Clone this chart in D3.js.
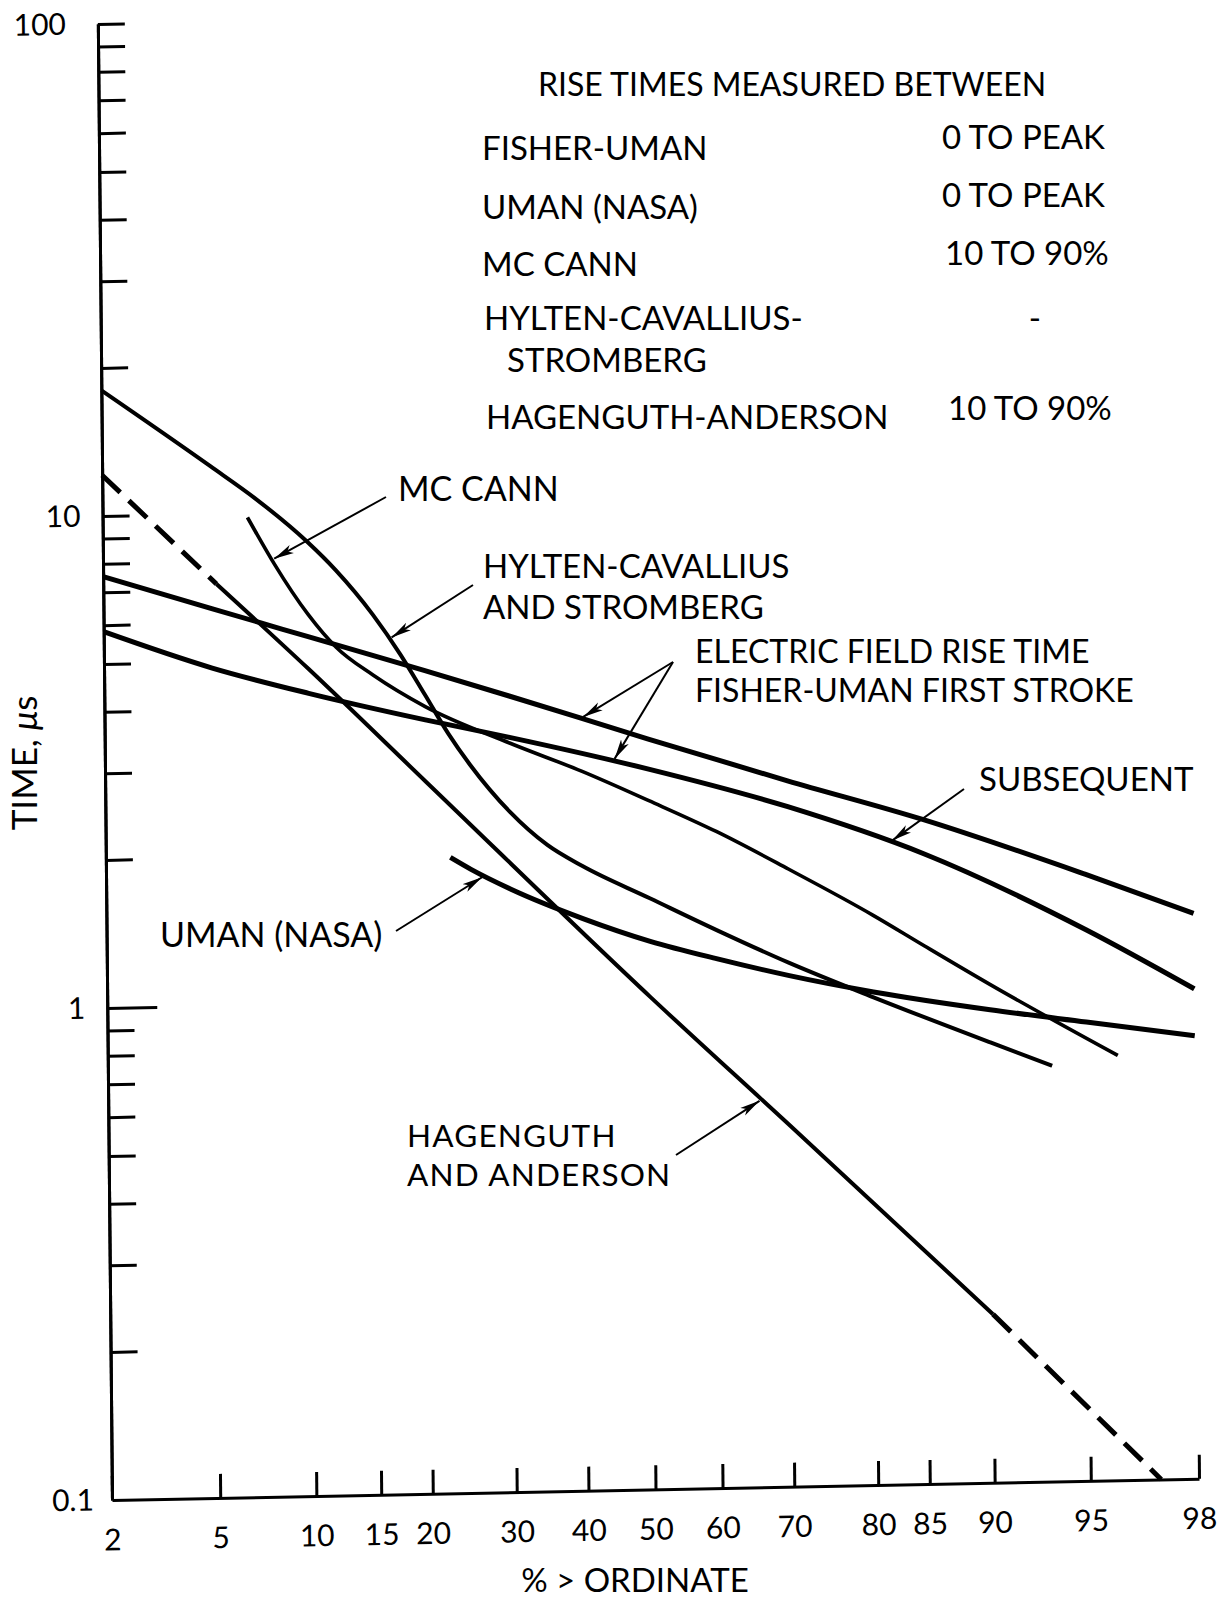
<!DOCTYPE html>
<html>
<head>
<meta charset="utf-8">
<script src="https://cdn.jsdelivr.net/npm/d3@7"></script>
<style>
  body { margin: 0; background: #fff; }
  svg text { font-family: Lato, "Open Sans", "DejaVu Sans", sans-serif; fill: #000; }
</style>
</head>
<body>
<svg id="chart" width="1223" height="1602"></svg>
<script>
// ---- axis ticks ----
const percentTicks = [2, 5, 10, 15, 20, 30, 40, 50, 60, 70, 80, 85, 90, 95, 98];
const timeMajorTicks = [0.1, 1, 10, 100];
const timeMajorLabels = ["0.1", "1", "10", "100"];
const timeMinorTicks = [0.2, 0.3, 0.4, 0.5, 0.6, 0.7, 0.8, 0.9,
                        2, 3, 4, 5, 6, 7, 8, 9,
                        20, 30, 40, 50, 60, 70, 80, 90];

// ---- rise-time distributions: [percent > ordinate, time in microseconds] ----
const fisherUmanFirst = [[2, 7.53], [5, 6.42], [10, 5.58], [20, 4.71], [30, 4.15], [50, 3.35],
                         [70, 2.72], [85, 2.24], [95, 1.71], [98, 1.41]];
const fisherUmanSubsequent = [[2, 5.82], [5, 4.86], [10, 4.28], [20, 3.74], [30, 3.42], [50, 2.91],
                              [70, 2.41], [85, 1.91], [95, 1.32], [98, 0.99]];
const hyltenCavallius = [[2, 18.0], [5, 12.5], [7, 10.7], [10, 8.7], [12, 7.6], [15, 6.15],
                         [17.5, 5.1], [20, 4.2], [22.5, 3.5], [25, 3.02], [30, 2.41], [35, 2.06],
                         [40, 1.86], [50, 1.59], [60, 1.36], [70, 1.16], [80, 0.98], [90, 0.785],
                         [93.5, 0.70]];
const mcCann = [[6.6, 9.8], [7, 9.15], [8, 7.84], [10, 6.2], [12, 5.29], [15, 4.63], [20, 3.98],
                [30, 3.33], [40, 2.9], [50, 2.51], [60, 2.16], [70, 1.8], [80, 1.44], [85, 1.24],
                [90, 1.03], [96.1, 0.73]];
const umanNasa = [[22.6, 1.96], [25, 1.85], [30, 1.68], [40, 1.455], [50, 1.30], [60, 1.19],
                  [70, 1.093], [80, 1.005], [90, 0.915], [95, 0.856], [98, 0.795]];
const hagenguthAnderson = [[2, 12.1], [5.2, 7.2], [10, 4.8], [20, 2.8], [50, 1.0], [70, 0.54],
                           [90, 0.22], [97.2, 0.1]];
const hagenguthMeasuredRange = [5.2, 90];   // outside this range the line is extrapolated

// ---- table of measurement definitions ----
const tableTitle = "RISE TIMES MEASURED BETWEEN";
const tableNames = ["FISHER-UMAN", "UMAN (NASA)", "MC CANN", "HYLTEN-CAVALLIUS-", "HAGENGUTH-ANDERSON"];
const tableMeasured = ["0 TO PEAK", "0 TO PEAK", "10 TO 90%", "-", "10 TO 90%"];

// ---------------------------------------------------------------
const svg = d3.select("#chart");
const origin = { x: 112, y: 1500 };
// the sheet sits slightly askew on the page
const shearX = 0.0096, shearY = -0.0196;
const mA = 1, mB = shearY, mC = shearX, mD = 1;
const mE = -shearX * origin.y, mF = -shearY * origin.x;

// page position -> plot-frame position (inverse of the sheet transform)
function toPlot(X, Y) {
  const det = mA * mD - mB * mC;
  const u = X - mE, v = Y - mF;
  return [(mD * u - mC * v) / det, (mA * v - mB * u) / det];
}

// inverse normal CDF (Acklam)
function probit(p) {
  const a = [-3.969683028665376e+01, 2.209460984245205e+02, -2.759285104469687e+02,
             1.383577518672690e+02, -3.066479806614716e+01, 2.506628277459239e+00];
  const b = [-5.447609879822406e+01, 1.615858368580409e+02, -1.556989798598866e+02,
             6.680131188771972e+01, -1.328068155288572e+01];
  const c = [-7.784894002430293e-03, -3.223964580411365e-01, -2.400758277161838e+00,
             -2.549732539343734e+00, 4.374664141464968e+00, 2.938163982698783e+00];
  const d = [7.784695709041462e-03, 3.224671290700398e-01, 2.445134137142996e+00,
             3.754408661907416e+00];
  const pl = 0.02425, ph = 1 - pl;
  let q, r;
  if (p < pl) {
    q = Math.sqrt(-2 * Math.log(p));
    return (((((c[0]*q+c[1])*q+c[2])*q+c[3])*q+c[4])*q+c[5]) / ((((d[0]*q+d[1])*q+d[2])*q+d[3])*q+1);
  }
  if (p > ph) {
    q = Math.sqrt(-2 * Math.log(1 - p));
    return -(((((c[0]*q+c[1])*q+c[2])*q+c[3])*q+c[4])*q+c[5]) / ((((d[0]*q+d[1])*q+d[2])*q+d[3])*q+1);
  }
  q = p - 0.5; r = q * q;
  return (((((a[0]*r+a[1])*r+a[2])*r+a[3])*r+a[4])*r+a[5])*q /
         (((((b[0]*r+b[1])*r+b[2])*r+b[3])*r+b[4])*r+1);
}

// probability (normal) scale for percent, log scale for time
const zScale = d3.scaleLinear().domain([probit(0.02), probit(0.98)]).range([112, 1199]);
const x = pct => zScale(probit(pct / 100));
const y = d3.scaleLog().domain([0.1, 100]).range([1500, 24]);

const sheet = svg.append("g")
  .attr("transform", `matrix(${mA},${mB},${mC},${mD},${mE},${mF})`);
const page = svg.append("g");

// arrowhead
svg.append("defs").append("marker")
  .attr("id", "head")
  .attr("viewBox", "0 -5 20 10")
  .attr("markerUnits", "userSpaceOnUse")
  .attr("markerWidth", 20).attr("markerHeight", 10)
  .attr("refX", 20).attr("refY", 0)
  .attr("orient", "auto")
  .append("path")
  .attr("d", "M0,-4.5L20,0L0,4.5L5,0Z")
  .attr("fill", "#000");

// ---- axes ----
function styleAxis(g, fontSize) {
  g.attr("font-family", null).attr("font-size", null);
  g.select(".domain").attr("stroke", "#000").attr("stroke-width", 3);
  g.selectAll(".tick line").attr("stroke", "#000").attr("stroke-width", 3);
  g.selectAll(".tick text").style("font-size", fontSize + "px");
}

const xAxis = d3.axisBottom(zScale)
  .tickValues(percentTicks.map(p => probit(p / 100)))
  .tickFormat((d, i) => percentTicks[i])
  .tickSizeInner(-24).tickSizeOuter(0).tickPadding(29);
sheet.append("g")
  .attr("transform", `translate(0,${y(0.1)})`)
  .call(xAxis)
  .call(g => styleAxis(g, 30));

const yMinor = d3.axisLeft(y)
  .tickValues(timeMinorTicks).tickFormat("")
  .tickSizeInner(-27).tickSizeOuter(0);
sheet.append("g")
  .attr("transform", `translate(${origin.x},0)`)
  .call(yMinor)
  .call(g => styleAxis(g, 30));

const yMajor = d3.axisLeft(y)
  .tickValues(timeMajorTicks)
  .tickFormat((d, i) => timeMajorLabels[i])
  .tickSizeInner(-27).tickSizeOuter(0).tickPadding(22);
sheet.append("g")
  .attr("transform", `translate(${origin.x},0)`)
  .call(yMajor)
  .call(g => styleAxis(g, 30))
  .call(g => g.selectAll(".tick").filter(d => d === 1).select("line").attr("x2", 50))
  .call(g => g.selectAll(".tick").filter(d => d === 0.1).select("line").remove())
  .call(g => g.selectAll(".tick").filter(d => d === 100).select("text").attr("dx", -10))
  .call(g => g.selectAll(".tick").filter(d => d === 0.1).select("text").attr("dx", 4));

// ---- curves ----
const line = d3.line()
  .x(d => x(d[0]))
  .y(d => y(d[1]))
  .curve(d3.curveMonotoneX);

const curves = [
  { data: fisherUmanFirst, width: 5 },
  { data: fisherUmanSubsequent, width: 5 },
  { data: hyltenCavallius, width: 4 },
  { data: mcCann, width: 3.6 },
  { data: umanNasa, width: 5 }
];
sheet.append("g").selectAll("path")
  .data(curves)
  .join("path")
  .attr("d", d => line(d.data))
  .attr("fill", "none")
  .attr("stroke", "#000")
  .attr("stroke-width", d => d.width);

const [lo, hi] = hagenguthMeasuredRange;
const haGroup = sheet.append("g").attr("fill", "none").attr("stroke", "#000");
haGroup.append("path")
  .attr("d", line(hagenguthAnderson.filter(d => d[0] >= lo && d[0] <= hi)))
  .attr("stroke-width", 4);
[hagenguthAnderson.filter(d => d[0] <= lo), hagenguthAnderson.filter(d => d[0] >= hi)]
  .forEach(seg => haGroup.append("path")
    .attr("d", line(seg))
    .attr("stroke-width", 5)
    .attr("stroke-dasharray", "25 12"));

// ---- annotation arrows (tail on the page, tip on a curve) ----
function pointOn(series, pct) {
  const pts = series.map(d => [x(d[0]), y(d[1])]);
  const px = x(pct);
  for (let i = 1; i < pts.length; i++) {
    if (px <= pts[i][0]) {
      const t = (px - pts[i - 1][0]) / (pts[i][0] - pts[i - 1][0]);
      return [px, pts[i - 1][1] + t * (pts[i][1] - pts[i - 1][1])];
    }
  }
  return pts[pts.length - 1];
}

const arrows = [
  { from: [386, 497], series: mcCann, at: 7.85 },
  { from: [473, 585], series: hyltenCavallius, at: 16.5 },
  { from: [673, 662], series: fisherUmanFirst, at: 40 },
  { from: [673, 662], series: fisherUmanSubsequent, at: 44.7 },
  { from: [964, 789], series: fisherUmanSubsequent, at: 81.85 },
  { from: [396, 931], series: umanNasa, at: 26.6 },
  { from: [676, 1155], series: hagenguthAnderson, at: 66.1 }
];
sheet.append("g").selectAll("line")
  .data(arrows)
  .join("line")
  .each(function (d) {
    const [x1, y1] = toPlot(d.from[0], d.from[1]);
    const [tx, ty] = pointOn(d.series, d.at);
    const len = Math.hypot(tx - x1, ty - y1);
    const k = (len - 2.5) / len;
    d3.select(this)
      .attr("x1", x1).attr("y1", y1)
      .attr("x2", x1 + (tx - x1) * k).attr("y2", y1 + (ty - y1) * k);
  })
  .attr("stroke", "#000")
  .attr("stroke-width", 2)
  .attr("marker-end", "url(#head)");

// ---- text (page coordinates) ----
function label(str, X, Y, size, anchor) {
  return page.append("text")
    .attr("x", X).attr("y", Y)
    .attr("text-anchor", anchor || "start")
    .style("font-size", size + "px")
    .text(str);
}

// table of measurement definitions
label(tableTitle, 538, 96, 32);
const nameRows = [[482, 160], [482, 219], [482, 276], [484, 330], [486, 429]];
const measuredRows = [[942, 149, "start"], [942, 207, "start"], [945, 265, "start"],
                      [1035, 330, "middle"], [948, 420, "start"]];
tableNames.forEach((s, i) => label(s, nameRows[i][0], nameRows[i][1], 33));
label("STROMBERG", 507, 372, 33);
tableMeasured.forEach((s, i) => label(s, measuredRows[i][0], measuredRows[i][1], 33, measuredRows[i][2]));

// curve labels
label("MC CANN", 398, 501, 34);
label("HYLTEN-CAVALLIUS", 483, 578, 33);
label("AND STROMBERG", 483, 619, 33);
label("ELECTRIC FIELD RISE TIME", 695, 663, 32);
label("FISHER-UMAN FIRST STROKE", 695, 702, 32);
label("SUBSEQUENT", 979, 791, 33);
label("UMAN (NASA)", 160, 947, 34);
label("HAGENGUTH", 407, 1147, 31.5).style("letter-spacing", "1.2px");
label("AND ANDERSON", 407, 1186, 31.5).style("letter-spacing", "1.2px");

// axis titles
label("% > ORDINATE", 635, 1592, 33, "middle");
{
  const t = page.append("text")
    .attr("transform", "translate(37,763) rotate(-90)")
    .attr("text-anchor", "middle")
    .style("font-size", "35px");
  t.append("tspan").text("TIME, ");
  t.append("tspan").style("font-style", "italic").text("\u03bc");
  t.append("tspan").text("s");
}
</script>
</body>
</html>
